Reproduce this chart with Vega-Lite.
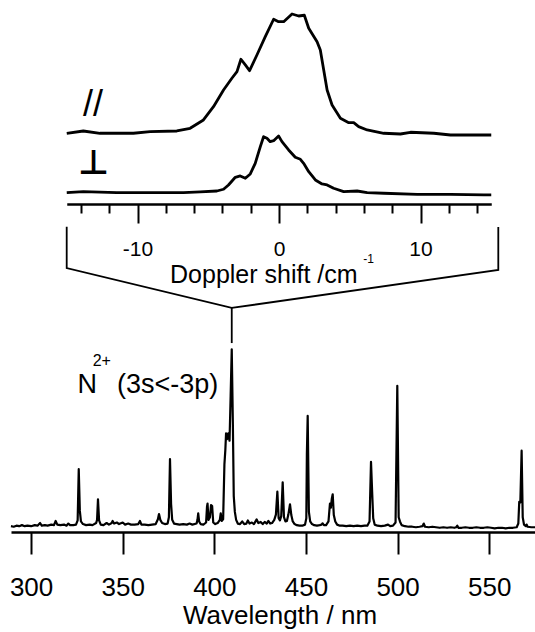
{
  "$schema": "https://vega.github.io/schema/vega-lite/v6.json",
  "width": 524,
  "height": 532,
  "autosize": "none",
  "padding": {"left": 11, "top": 0, "right": 0, "bottom": 100},
  "background": "white",
  "config": {"view": {"stroke": null}, "font": "Liberation Sans", "axis": {"grid": false}},
  "datasets": {
    "spectrum": [
      {"wl": 289.0, "v": 0.3}, {"wl": 290.5, "v": 0.2}, {"wl": 292, "v": 0.4}, {"wl": 293.5, "v": 0.3}, {"wl": 295, "v": 0.5},
      {"wl": 296.5, "v": 0.3}, {"wl": 298, "v": 0.4}, {"wl": 300, "v": 0.3}, {"wl": 302, "v": 0.5}, {"wl": 303.5, "v": 0.4},
      {"wl": 304.9, "v": 0.9}, {"wl": 305.8, "v": 0.4}, {"wl": 307.5, "v": 0.5}, {"wl": 309, "v": 0.4}, {"wl": 311, "v": 0.6},
      {"wl": 312.5, "v": 0.5}, {"wl": 313.4, "v": 1.3}, {"wl": 314.3, "v": 0.6}, {"wl": 316, "v": 0.5}, {"wl": 318, "v": 0.6},
      {"wl": 319.3, "v": 0.4}, {"wl": 320.3, "v": 0.8}, {"wl": 321.3, "v": 0.5}, {"wl": 323, "v": 0.5}, {"wl": 324.5, "v": 0.6},
      {"wl": 325.4, "v": 1.4}, {"wl": 326.0, "v": 11.1}, {"wl": 326.6, "v": 3.2}, {"wl": 327.2, "v": 1.2}, {"wl": 328.3, "v": 0.7},
      {"wl": 330, "v": 0.5}, {"wl": 332, "v": 0.6}, {"wl": 333.5, "v": 0.5}, {"wl": 335.5, "v": 0.9}, {"wl": 336.0, "v": 1.5},
      {"wl": 336.5, "v": 5.4}, {"wl": 337.1, "v": 1.4}, {"wl": 338, "v": 0.6}, {"wl": 339.5, "v": 0.5}, {"wl": 341.2, "v": 0.9},
      {"wl": 342.5, "v": 0.6}, {"wl": 344.0, "v": 0.9}, {"wl": 344.5, "v": 1.3}, {"wl": 345.3, "v": 0.8}, {"wl": 346.8, "v": 1.0},
      {"wl": 348, "v": 0.7}, {"wl": 350, "v": 1.0}, {"wl": 351.3, "v": 0.6}, {"wl": 353, "v": 0.8}, {"wl": 354.5, "v": 0.6},
      {"wl": 356.5, "v": 0.6}, {"wl": 358.5, "v": 0.7}, {"wl": 359.4, "v": 1.3}, {"wl": 360.2, "v": 0.6}, {"wl": 362, "v": 0.6},
      {"wl": 364, "v": 0.5}, {"wl": 366, "v": 0.6}, {"wl": 368, "v": 0.7}, {"wl": 369.2, "v": 1.6}, {"wl": 369.8, "v": 2.6},
      {"wl": 370.5, "v": 1.5}, {"wl": 371.5, "v": 0.9}, {"wl": 373, "v": 0.7}, {"wl": 374.5, "v": 0.8}, {"wl": 375.2, "v": 2.0},
      {"wl": 375.8, "v": 13.0}, {"wl": 376.4, "v": 4.5}, {"wl": 377.0, "v": 1.5}, {"wl": 378, "v": 0.8}, {"wl": 379.5, "v": 0.7},
      {"wl": 381, "v": 0.6}, {"wl": 383, "v": 0.7}, {"wl": 385, "v": 0.6}, {"wl": 386.5, "v": 0.8}, {"wl": 388, "v": 0.6},
      {"wl": 390.3, "v": 0.8}, {"wl": 390.8, "v": 1.5}, {"wl": 391.2, "v": 2.75}, {"wl": 391.7, "v": 1.2}, {"wl": 392.5, "v": 0.7},
      {"wl": 394, "v": 0.6}, {"wl": 395.5, "v": 1.0}, {"wl": 396.0, "v": 4.0}, {"wl": 396.3, "v": 4.6}, {"wl": 396.8, "v": 1.5},
      {"wl": 397.6, "v": 2.0}, {"wl": 398.2, "v": 4.3}, {"wl": 398.8, "v": 4.1}, {"wl": 399.4, "v": 1.0}, {"wl": 400.5, "v": 0.7},
      {"wl": 401.8, "v": 0.9}, {"wl": 403.0, "v": 1.5}, {"wl": 403.5, "v": 2.75}, {"wl": 404.0, "v": 1.3}, {"wl": 404.8, "v": 1.6},
      {"wl": 405.5, "v": 12.0}, {"wl": 406.0, "v": 14.7}, {"wl": 406.4, "v": 17.9}, {"wl": 407.0, "v": 16.8}, {"wl": 407.6, "v": 17.9},
      {"wl": 408.3, "v": 16.5}, {"wl": 408.9, "v": 25.0}, {"wl": 409.5, "v": 33.8}, {"wl": 410.1, "v": 20.0}, {"wl": 410.6, "v": 6.0},
      {"wl": 411.2, "v": 3.0}, {"wl": 411.9, "v": 1.5}, {"wl": 412.8, "v": 0.8}, {"wl": 414, "v": 0.7}, {"wl": 415.2, "v": 1.2},
      {"wl": 416.3, "v": 0.7}, {"wl": 417.5, "v": 0.8}, {"wl": 418.3, "v": 1.4}, {"wl": 419.2, "v": 0.8}, {"wl": 420.5, "v": 1.0},
      {"wl": 421.6, "v": 0.7}, {"wl": 423.1, "v": 1.6}, {"wl": 424, "v": 0.9}, {"wl": 425.3, "v": 1.1}, {"wl": 426.4, "v": 0.7},
      {"wl": 427.5, "v": 1.1}, {"wl": 428.6, "v": 0.8}, {"wl": 429.5, "v": 1.3}, {"wl": 430.5, "v": 0.8}, {"wl": 431.5, "v": 0.9},
      {"wl": 432.7, "v": 1.5}, {"wl": 433.6, "v": 2.5}, {"wl": 434.4, "v": 6.84}, {"wl": 435.1, "v": 1.8}, {"wl": 435.8, "v": 1.4},
      {"wl": 436.5, "v": 2.2}, {"wl": 437.3, "v": 8.6}, {"wl": 438.0, "v": 2.0}, {"wl": 438.8, "v": 1.2}, {"wl": 439.6, "v": 1.3},
      {"wl": 440.4, "v": 2.5}, {"wl": 441.3, "v": 4.45}, {"wl": 442.0, "v": 2.4}, {"wl": 442.8, "v": 1.2}, {"wl": 443.8, "v": 0.7},
      {"wl": 445, "v": 0.5}, {"wl": 446.5, "v": 0.4}, {"wl": 448, "v": 0.4}, {"wl": 449.5, "v": 0.6}, {"wl": 450.2, "v": 1.8},
      {"wl": 450.5, "v": 14.0}, {"wl": 450.95, "v": 21.2}, {"wl": 451.6, "v": 3.0}, {"wl": 452.3, "v": 1.2}, {"wl": 453.3, "v": 0.7},
      {"wl": 454.5, "v": 0.5}, {"wl": 456, "v": 0.4}, {"wl": 457.5, "v": 0.5}, {"wl": 458.5, "v": 0.6}, {"wl": 459.1, "v": 0.85},
      {"wl": 459.8, "v": 0.5}, {"wl": 461, "v": 0.5}, {"wl": 462.3, "v": 1.2}, {"wl": 463.1, "v": 4.6}, {"wl": 463.6, "v": 3.8},
      {"wl": 464.1, "v": 5.5}, {"wl": 464.6, "v": 6.35}, {"wl": 465.2, "v": 2.4}, {"wl": 466.0, "v": 1.2}, {"wl": 467, "v": 0.6},
      {"wl": 468.5, "v": 0.4}, {"wl": 470, "v": 0.4}, {"wl": 472, "v": 0.3}, {"wl": 474, "v": 0.4}, {"wl": 476, "v": 0.3},
      {"wl": 478, "v": 0.4}, {"wl": 480, "v": 0.3}, {"wl": 482, "v": 0.4}, {"wl": 483.5, "v": 0.4}, {"wl": 484.7, "v": 1.2},
      {"wl": 485.5, "v": 12.5}, {"wl": 486.1, "v": 7.0}, {"wl": 486.7, "v": 1.8}, {"wl": 487.5, "v": 0.6}, {"wl": 489, "v": 0.4},
      {"wl": 491, "v": 0.3}, {"wl": 493, "v": 0.4}, {"wl": 494.8, "v": 0.6}, {"wl": 496, "v": 0.3}, {"wl": 497.5, "v": 0.4},
      {"wl": 498.9, "v": 1.0}, {"wl": 499.85, "v": 26.9}, {"wl": 500.6, "v": 2.0}, {"wl": 501.3, "v": 1.2}, {"wl": 502.2, "v": 0.5},
      {"wl": 504, "v": 0.3}, {"wl": 506, "v": 0.2}, {"wl": 508, "v": 0.2}, {"wl": 510, "v": 0.1}, {"wl": 512, "v": 0.2},
      {"wl": 513.6, "v": 0.3}, {"wl": 514.3, "v": 0.8}, {"wl": 515, "v": 0.2}, {"wl": 517, "v": 0.1}, {"wl": 519, "v": 0.2},
      {"wl": 521, "v": 0.1}, {"wl": 523, "v": 0.0}, {"wl": 525, "v": 0.1}, {"wl": 527, "v": 0.0}, {"wl": 529, "v": 0.1},
      {"wl": 531, "v": 0.0}, {"wl": 532.0, "v": 0.1}, {"wl": 532.6, "v": 0.4}, {"wl": 533.2, "v": 0.0}, {"wl": 535, "v": 0.0},
      {"wl": 537, "v": 0.1}, {"wl": 539, "v": 0.0}, {"wl": 541, "v": 0.0}, {"wl": 543, "v": 0.1}, {"wl": 545, "v": 0.0},
      {"wl": 547, "v": 0.0}, {"wl": 549, "v": 0.1}, {"wl": 551, "v": 0.0}, {"wl": 553, "v": -0.1}, {"wl": 555, "v": 0.0},
      {"wl": 557, "v": 0.0}, {"wl": 559, "v": -0.1}, {"wl": 561, "v": 0.0}, {"wl": 563, "v": 0.0}, {"wl": 565, "v": 0.1},
      {"wl": 565.9, "v": 0.8}, {"wl": 566.4, "v": 4.9}, {"wl": 567.0, "v": 4.8}, {"wl": 567.7, "v": 14.6}, {"wl": 568.3, "v": 2.0},
      {"wl": 569.0, "v": 0.6}, {"wl": 570.0, "v": 0.3}, {"wl": 570.4, "v": 0.6}, {"wl": 571, "v": 0.2}, {"wl": 573, "v": 0.1},
      {"wl": 575, "v": 0.1}
    ],
    "bracket": [
      {"seg": "bracket", "ord": 1, "wl": 319.43, "v": 57.05},
      {"seg": "bracket", "ord": 2, "wl": 319.43, "v": 49.2},
      {"seg": "bracket", "ord": 3, "wl": 409.5, "v": 41.65},
      {"seg": "bracket", "ord": 4, "wl": 554.97, "v": 48.87},
      {"seg": "bracket", "ord": 5, "wl": 554.97, "v": 57.0},
      {"seg": "stem", "ord": 1, "wl": 409.5, "v": 41.65},
      {"seg": "stem", "ord": 2, "wl": 409.5, "v": 35.0}
    ],
    "ionMain": [
      {"label": "N", "wl": 325.3, "v": 25.54},
      {"label": "(3s<-3p)", "wl": 346.9, "v": 25.54}
    ],
    "ionSup": [
      {"label": "2+", "wl": 333.6, "v": 30.6}
    ],
    "doppler": [
      {"pol": "parallel", "d": -15.0, "v": 74.75}, {"pol": "parallel", "d": -13.83, "v": 75.18}, {"pol": "parallel", "d": -12.65, "v": 74.75},
      {"pol": "parallel", "d": -10.29, "v": 74.75}, {"pol": "parallel", "d": -9.11, "v": 75.05}, {"pol": "parallel", "d": -7.22, "v": 75.18},
      {"pol": "parallel", "d": -6.28, "v": 75.69}, {"pol": "parallel", "d": -5.34, "v": 77.27}, {"pol": "parallel", "d": -4.63, "v": 79.79},
      {"pol": "parallel", "d": -3.92, "v": 82.95}, {"pol": "parallel", "d": -3.33, "v": 85.17}, {"pol": "parallel", "d": -2.97, "v": 86.42},
      {"pol": "parallel", "d": -2.69, "v": 88.77}, {"pol": "parallel", "d": -2.38, "v": 87.69}, {"pol": "parallel", "d": -2.08, "v": 86.61},
      {"pol": "parallel", "d": -1.56, "v": 89.58}, {"pol": "parallel", "d": -0.97, "v": 93.05}, {"pol": "parallel", "d": -0.38, "v": 96.35},
      {"pol": "parallel", "d": -0.03, "v": 95.89}, {"pol": "parallel", "d": 0.33, "v": 95.89}, {"pol": "parallel", "d": 0.92, "v": 97.35},
      {"pol": "parallel", "d": 1.39, "v": 96.97}, {"pol": "parallel", "d": 1.79, "v": 97.11}, {"pol": "parallel", "d": 2.10, "v": 94.64},
      {"pol": "parallel", "d": 2.69, "v": 92.10}, {"pol": "parallel", "d": 2.92, "v": 90.53}, {"pol": "parallel", "d": 3.16, "v": 86.74},
      {"pol": "parallel", "d": 3.40, "v": 82.95}, {"pol": "parallel", "d": 3.75, "v": 80.11}, {"pol": "parallel", "d": 4.34, "v": 77.59},
      {"pol": "parallel", "d": 4.93, "v": 76.76}, {"pol": "parallel", "d": 5.28, "v": 76.76}, {"pol": "parallel", "d": 5.63, "v": 76.00},
      {"pol": "parallel", "d": 6.23, "v": 75.37}, {"pol": "parallel", "d": 7.40, "v": 74.75}, {"pol": "parallel", "d": 8.58, "v": 74.61},
      {"pol": "parallel", "d": 9.29, "v": 74.94}, {"pol": "parallel", "d": 10.94, "v": 74.75}, {"pol": "parallel", "d": 12.12, "v": 74.42},
      {"pol": "parallel", "d": 13.30, "v": 74.42}, {"pol": "parallel", "d": 15.0, "v": 74.42},
      {"pol": "perpendicular", "d": -15.0, "v": 63.49}, {"pol": "perpendicular", "d": -13.83, "v": 63.68}, {"pol": "perpendicular", "d": -11.47, "v": 63.49},
      {"pol": "perpendicular", "d": -9.11, "v": 63.49}, {"pol": "perpendicular", "d": -6.75, "v": 63.49}, {"pol": "perpendicular", "d": -5.57, "v": 63.63},
      {"pol": "perpendicular", "d": -4.39, "v": 63.81}, {"pol": "perpendicular", "d": -3.92, "v": 64.14}, {"pol": "perpendicular", "d": -3.57, "v": 64.95},
      {"pol": "perpendicular", "d": -3.09, "v": 66.41}, {"pol": "perpendicular", "d": -2.74, "v": 66.66}, {"pol": "perpendicular", "d": -2.38, "v": 66.22},
      {"pol": "perpendicular", "d": -2.03, "v": 67.04}, {"pol": "perpendicular", "d": -1.68, "v": 69.06}, {"pol": "perpendicular", "d": -1.32, "v": 72.21},
      {"pol": "perpendicular", "d": -1.09, "v": 74.10}, {"pol": "perpendicular", "d": -0.85, "v": 73.80}, {"pol": "perpendicular", "d": -0.62, "v": 73.16},
      {"pol": "perpendicular", "d": -0.38, "v": 73.35}, {"pol": "perpendicular", "d": -0.03, "v": 74.24}, {"pol": "perpendicular", "d": 0.21, "v": 73.16},
      {"pol": "perpendicular", "d": 0.68, "v": 71.58}, {"pol": "perpendicular", "d": 1.15, "v": 70.20}, {"pol": "perpendicular", "d": 1.51, "v": 69.82},
      {"pol": "perpendicular", "d": 1.74, "v": 69.06}, {"pol": "perpendicular", "d": 2.10, "v": 67.47}, {"pol": "perpendicular", "d": 2.57, "v": 65.90},
      {"pol": "perpendicular", "d": 3.04, "v": 65.14}, {"pol": "perpendicular", "d": 3.40, "v": 64.95}, {"pol": "perpendicular", "d": 3.86, "v": 64.33},
      {"pol": "perpendicular", "d": 4.57, "v": 63.68}, {"pol": "perpendicular", "d": 5.52, "v": 63.81}, {"pol": "perpendicular", "d": 6.23, "v": 63.49},
      {"pol": "perpendicular", "d": 7.40, "v": 63.38}, {"pol": "perpendicular", "d": 9.77, "v": 63.19}, {"pol": "perpendicular", "d": 12.12, "v": 63.19},
      {"pol": "perpendicular", "d": 14.48, "v": 63.06}, {"pol": "perpendicular", "d": 15.0, "v": 63.06}
    ],
    "parLabel": [{"label": "//", "d": -13.14, "v": 77.99}],
    "perpLabel": [{"label": "⊥", "d": -13.1, "v": 67.04}],
    "unitSup": [{"label": "-1", "d": 6.33, "v": 50.17}]
  },
  "layer": [
    {
      "encoding": {
        "x": {
          "field": "wl", "type": "quantitative",
          "scale": {"domain": [289.03, 575.0], "nice": false, "zero": false},
          "axis": {
            "orient": "bottom",
            "values": [300, 350, 400, 450, 500, 550],
            "format": "d",
            "domainColor": "black", "domainWidth": 2.5,
            "tickColor": "black", "tickWidth": 2, "tickSize": 22,
            "labelFontSize": 26, "labelColor": "black", "labelPadding": 20,
            "labelFlush": false, "labelOverlap": false,
            "title": "Wavelength / nm", "titleFontSize": 26, "titleFontWeight": "normal", "titleColor": "black",
            "titleX": 268.5, "titleY": 91, "titleAlign": "center", "titleBaseline": "alphabetic"
          }
        },
        "y": {
          "field": "v", "type": "quantitative",
          "scale": {"domain": [-0.8, 100], "nice": false, "zero": false},
          "axis": null
        }
      },
      "layer": [
        {
          "data": {"name": "spectrum"},
          "mark": {"type": "line", "color": "black", "strokeWidth": 2.2, "strokeJoin": "round"}
        },
        {
          "data": {"name": "bracket"},
          "mark": {"type": "line", "color": "black", "strokeWidth": 1.8},
          "encoding": {"detail": {"field": "seg"}, "order": {"field": "ord", "type": "quantitative"}}
        },
        {
          "data": {"name": "ionMain"},
          "mark": {"type": "text", "align": "left", "baseline": "alphabetic", "fontSize": 27, "color": "black", "font": "Liberation Sans"},
          "encoding": {"text": {"field": "label"}}
        },
        {
          "data": {"name": "ionSup"},
          "mark": {"type": "text", "align": "left", "baseline": "alphabetic", "fontSize": 16, "color": "black", "font": "Liberation Sans"},
          "encoding": {"text": {"field": "label"}}
        }
      ]
    },
    {
      "encoding": {
        "x": {
          "field": "d", "type": "quantitative",
          "scale": {"domain": [-15, 15], "range": [55.75, 480.25], "nice": false, "zero": false},
          "axis": {
            "orient": "bottom", "offset": -328,
            "values": [-14, -12, -10, -8, -6, -4, -2, 0, 2, 4, 6, 8, 10, 12, 14],
            "domainColor": "black", "domainWidth": 2.5,
            "tickColor": "black", "tickWidth": 2,
            "tickSize": {"condition": {"test": "datum.value % 10 === 0", "value": 19}, "value": 9},
            "labelExpr": "datum.value === -10 ? '-10' : datum.value === 0 ? '0' : datum.value === 10 ? '10' : ''",
            "labelFontSize": 21, "labelColor": "black", "labelPadding": 15,
            "labelFlush": false, "labelOverlap": false,
            "title": "Doppler shift /cm", "titleFontSize": 25, "titleFontWeight": "normal", "titleColor": "black",
            "titleX": 252.3, "titleY": 78, "titleAlign": "center", "titleBaseline": "alphabetic"
          }
        },
        "y": {
          "field": "v", "type": "quantitative",
          "scale": {"domain": [-0.8, 100], "nice": false, "zero": false},
          "axis": null
        }
      },
      "layer": [
        {
          "data": {"name": "doppler"},
          "mark": {"type": "line", "color": "black", "strokeWidth": 2.8, "strokeJoin": "round"},
          "encoding": {"detail": {"field": "pol"}}
        },
        {
          "data": {"name": "parLabel"},
          "mark": {"type": "text", "align": "center", "baseline": "alphabetic", "fontSize": 36, "color": "black", "font": "Liberation Sans"},
          "encoding": {"text": {"field": "label"}}
        },
        {
          "data": {"name": "perpLabel"},
          "mark": {"type": "text", "align": "center", "baseline": "alphabetic", "fontSize": 34, "fontWeight": "bold", "color": "black", "font": "DejaVu Sans"},
          "encoding": {"text": {"field": "label"}}
        },
        {
          "data": {"name": "unitSup"},
          "mark": {"type": "text", "align": "center", "baseline": "alphabetic", "fontSize": 12, "color": "black", "font": "Liberation Sans"},
          "encoding": {"text": {"field": "label"}}
        }
      ]
    }
  ],
  "resolve": {"scale": {"x": "independent"}, "axis": {"x": "independent"}}
}
